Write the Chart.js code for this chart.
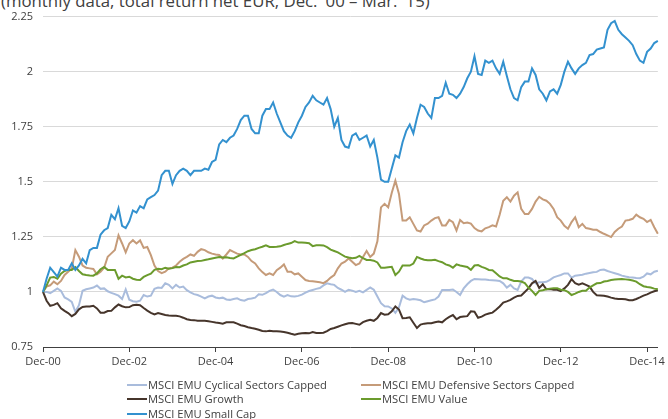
<!DOCTYPE html>
<html><head><meta charset="utf-8">
<script src="https://cdn.jsdelivr.net/npm/chart.js@4/dist/chart.umd.min.js"></script>
<style>
html,body{margin:0;padding:0;background:#fff;overflow:hidden}
#wrap{position:relative;width:668px;height:419px;font-family:"Open Sans",sans-serif;color:#404040;overflow:hidden}
#title{position:absolute;left:1px;top:-7px;font-size:16.8px;line-height:16.8px;white-space:nowrap;color:#404040}
#c{position:absolute;left:0;top:0}
.leg{position:absolute;font-size:11.2px;line-height:14px;white-space:nowrap;color:#404040}
.leg .sw{display:inline-block;width:20px;height:2px;vertical-align:middle;margin-right:1px;position:relative;top:-1px}
</style>
</head><body>
<div id="wrap">
<div id="title">(monthly data, total return net EUR, Dec. '00 – Mar. '15)</div>
<canvas id="c" width="668" height="380"></canvas>
<div id="legend"></div>
</div>
<script>
// Tick labels shown on the x axis
const tickLabels = ["Dec-00","Dec-02","Dec-04","Dec-06","Dec-08","Dec-10","Dec-12","Dec-14"];
const monthNames = ["Jan","Feb","Mar","Apr","May","Jun","Jul","Aug","Sep","Oct","Nov","Dec"];
// Categories: monthly, Dec-00 .. Mar-15
const categories = ["Dec-00"];
for (let y = 1; y <= 15; y++) {
  for (let m = 0; m < 12; m++) {
    if (y === 15 && m > 2) break;
    categories.push(monthNames[m] + "-" + String(y).padStart(2, "0"));
  }
}

const seriesNames = ["MSCI EMU Cyclical Sectors Capped","MSCI EMU Defensive Sectors Capped","MSCI EMU Growth","MSCI EMU Value","MSCI EMU Small Cap"];

const cyclical = [1.00,
 1.00,0.994,1.005,1.016,1.005,0.975,0.966,0.955,0.91,0.94,1.005,1.012,
 1.016,1.02,1.029,1.014,1.016,1.003,0.996,0.99,0.983,0.968,1.011,0.965,
 0.958,0.956,0.96,0.986,0.979,0.983,1.014,1.02,1.018,1.039,1.032,1.016,
 1.032,1.02,1.024,1.008,0.998,0.99,0.986,0.979,0.971,0.979,0.983,0.975,
 0.971,0.974,0.966,0.964,0.968,0.971,0.963,0.96,0.968,0.97,0.974,0.989,
 0.987,0.995,1.005,1.011,1.0,0.986,0.979,0.986,0.98,0.979,0.982,0.988,
 0.997,1.004,1.009,1.014,1.018,1.03,1.039,1.035,1.032,1.018,1.01,1.0,
 1.01,1.006,1.0,1.005,0.998,1.009,1.02,1.01,0.979,0.949,0.935,0.934,
 0.925,0.905,0.93,0.983,0.971,0.965,0.968,0.966,0.962,0.953,0.958,0.962,
 0.966,0.979,1.009,1.009,1.009,1.011,1.0,0.986,1.016,1.035,1.05,1.059,
 1.058,1.057,1.056,1.054,1.053,1.052,1.05,1.039,1.02,1.032,1.016,1.009,
 1.047,1.065,1.065,1.059,1.039,1.044,1.044,1.046,1.055,1.066,1.072,1.077,
 1.084,1.084,1.065,1.074,1.076,1.078,1.083,1.086,1.089,1.091,1.10,1.102,
 1.095,1.09,1.085,1.08,1.074,1.07,1.067,1.065,1.063,1.062,1.069,1.084,
 1.08,1.092,1.096];

const defensive = [1.00,
 1.025,1.03,1.047,1.035,1.05,1.077,1.092,1.107,1.19,1.16,1.12,1.11,
 1.107,1.104,1.08,1.092,1.11,1.16,1.175,1.19,1.257,1.22,1.18,1.22,
 1.235,1.22,1.234,1.20,1.204,1.167,1.12,1.095,1.085,1.092,1.107,1.11,
 1.12,1.137,1.15,1.159,1.17,1.164,1.182,1.194,1.19,1.18,1.174,1.17,
 1.168,1.152,1.17,1.19,1.182,1.174,1.17,1.17,1.159,1.14,1.129,1.107,
 1.09,1.077,1.084,1.077,1.099,1.11,1.125,1.092,1.092,1.08,1.084,1.069,
 1.054,1.05,1.048,1.046,1.044,1.04,1.05,1.065,1.077,1.107,1.129,1.137,
 1.152,1.137,1.122,1.129,1.159,1.186,1.159,1.174,1.23,1.384,1.40,1.384,
 1.45,1.505,1.445,1.324,1.324,1.339,1.309,1.279,1.274,1.302,1.31,1.324,
 1.335,1.339,1.302,1.302,1.327,1.317,1.279,1.327,1.312,1.315,1.31,1.29,
 1.279,1.275,1.289,1.294,1.302,1.297,1.35,1.414,1.43,1.41,1.437,1.452,
 1.377,1.354,1.354,1.377,1.41,1.432,1.42,1.414,1.40,1.377,1.339,1.324,
 1.30,1.287,1.317,1.339,1.294,1.309,1.29,1.287,1.282,1.282,1.272,1.264,
 1.257,1.249,1.272,1.287,1.297,1.324,1.327,1.332,1.351,1.339,1.332,1.317,
 1.327,1.294,1.264];

const growth = [1.00,
 0.96,0.937,0.941,0.949,0.926,0.914,0.904,0.89,0.90,0.921,0.932,0.934,
 0.934,0.937,0.925,0.906,0.906,0.913,0.914,0.93,0.943,0.935,0.93,0.931,
 0.94,0.942,0.94,0.927,0.915,0.905,0.898,0.904,0.90,0.895,0.893,0.892,
 0.892,0.889,0.883,0.876,0.873,0.872,0.869,0.869,0.869,0.867,0.864,0.861,
 0.859,0.856,0.862,0.862,0.862,0.856,0.849,0.845,0.84,0.836,0.833,0.828,
 0.823,0.821,0.824,0.822,0.821,0.82,0.818,0.815,0.81,0.806,0.81,0.812,
 0.813,0.812,0.818,0.814,0.814,0.815,0.822,0.832,0.836,0.842,0.848,0.853,
 0.858,0.859,0.855,0.851,0.863,0.869,0.874,0.869,0.882,0.904,0.897,0.899,
 0.912,0.934,0.92,0.881,0.882,0.885,0.86,0.836,0.852,0.856,0.858,0.858,
 0.862,0.866,0.862,0.876,0.887,0.895,0.876,0.886,0.888,0.89,0.912,0.91,
 0.883,0.888,0.897,0.902,0.906,0.919,0.934,0.952,0.957,0.964,0.974,0.982,
 0.984,1.0,1.016,1.039,1.05,1.018,1.035,1.012,1.013,1.01,1.01,1.004,
 1.016,1.032,1.058,1.04,1.033,1.039,1.032,1.024,1.0,0.985,0.984,0.983,
 0.979,0.974,0.97,0.968,0.968,0.967,0.962,0.962,0.968,0.975,0.983,0.989,
 0.997,1.003,1.008];

const value = [1.00,
 1.03,1.065,1.068,1.06,1.083,1.095,1.10,1.10,1.113,1.095,1.08,1.077,
 1.075,1.074,1.084,1.103,1.113,1.10,1.10,1.10,1.06,1.074,1.066,1.069,
 1.06,1.055,1.054,1.068,1.076,1.083,1.10,1.105,1.103,1.11,1.105,1.108,
 1.113,1.112,1.12,1.125,1.134,1.137,1.14,1.141,1.145,1.148,1.152,1.155,
 1.158,1.156,1.157,1.154,1.152,1.16,1.168,1.176,1.185,1.19,1.194,1.20,
 1.205,1.212,1.204,1.204,1.205,1.207,1.213,1.218,1.222,1.231,1.224,1.224,
 1.223,1.221,1.208,1.212,1.212,1.211,1.203,1.192,1.186,1.18,1.17,1.16,
 1.156,1.153,1.155,1.164,1.153,1.145,1.145,1.142,1.134,1.11,1.11,1.112,
 1.114,1.077,1.092,1.12,1.12,1.12,1.129,1.159,1.152,1.146,1.144,1.144,
 1.146,1.14,1.135,1.125,1.12,1.11,1.125,1.12,1.117,1.113,1.10,1.12,
 1.122,1.114,1.108,1.10,1.099,1.085,1.07,1.062,1.062,1.055,1.05,1.05,
 1.047,1.04,1.02,1.005,0.986,1.005,1.008,1.012,1.015,1.017,1.017,1.01,
 1.008,1.0,0.986,0.992,1.0,1.005,1.005,1.02,1.03,1.039,1.04,1.047,
 1.05,1.054,1.056,1.058,1.059,1.057,1.055,1.052,1.047,1.035,1.026,1.022,
 1.02,1.015,1.012];

const smallCap = [1.00,
 1.06,1.11,1.09,1.07,1.11,1.10,1.10,1.13,1.10,1.12,1.15,1.13,
 1.19,1.20,1.20,1.26,1.28,1.29,1.35,1.33,1.38,1.30,1.29,1.32,
 1.37,1.36,1.39,1.38,1.42,1.43,1.44,1.46,1.53,1.55,1.55,1.49,
 1.53,1.55,1.56,1.55,1.53,1.55,1.55,1.55,1.56,1.555,1.59,1.60,
 1.67,1.69,1.68,1.70,1.71,1.74,1.78,1.80,1.80,1.74,1.72,1.72,
 1.80,1.83,1.83,1.86,1.81,1.77,1.73,1.71,1.70,1.73,1.77,1.80,
 1.84,1.86,1.89,1.87,1.86,1.85,1.88,1.83,1.75,1.79,1.69,1.66,
 1.655,1.71,1.72,1.69,1.70,1.71,1.66,1.69,1.61,1.51,1.50,1.50,
 1.56,1.62,1.61,1.68,1.73,1.76,1.72,1.79,1.85,1.84,1.81,1.79,
 1.88,1.88,1.89,1.95,1.90,1.895,1.88,1.90,1.93,1.97,2.00,2.07,
 1.99,1.985,2.05,2.04,2.05,2.015,1.99,2.045,1.98,1.92,1.88,1.87,
 1.93,1.955,1.955,2.015,1.985,1.92,1.90,1.87,1.91,1.92,1.90,1.94,
 2.00,2.045,2.015,1.99,2.015,2.03,2.04,2.075,2.08,2.10,2.105,2.11,
 2.19,2.22,2.23,2.19,2.17,2.155,2.14,2.12,2.08,2.05,2.04,2.09,
 2.105,2.13,2.14];

const seriesValues = [cyclical, defensive, growth, value, smallCap];
const seriesColors = ["#a9bcdc","#c59b79","#46352b","#6b9b2d","#3391cf"];

const font = {family:"Open Sans", size:11};
const datasets = seriesNames.map((n,i)=>({
  label:n, data:seriesValues[i], borderColor:seriesColors[i], backgroundColor:seriesColors[i],
  borderWidth:2, pointRadius:0, tension:0, fill:false, order:seriesNames.length-i
}));

const chart = new Chart(document.getElementById("c"), {
  type:"line",
  data:{labels:categories, datasets:datasets},
  options:{
    responsive:false, animation:false, devicePixelRatio:1,
    layout:{padding:{left:0,right:9,top:15,bottom:5}},
    plugins:{legend:{display:false}, tooltip:{enabled:false}},
    scales:{
      x:{
        type:"category", offset:false,
        grid:{display:true, drawOnChartArea:false, drawTicks:true, tickLength:5, color:"#404040", lineWidth:1},
        border:{display:true, color:"#404040", width:1},
        ticks:{autoSkip:false, maxRotation:0, minRotation:0, padding:3, color:"#404040", font:font,
          callback:function(v,i){ const l = categories[i]; return tickLabels.includes(l) ? l : null; }},
        afterFit:function(s){ s.height = 28; }
      },
      y:{
        min:0.75, max:2.25,
        ticks:{stepSize:0.25, padding:10, color:"#404040", font:font,
          callback:function(v){ return String(Math.round(v*100)/100); }},
        grid:{color:"#d9d9d9", drawTicks:false, lineWidth:1},
        border:{display:false},
        afterFit:function(s){ s.width = 43; }
      }
    }
  }
});

// HTML legend built from chart datasets
const legendPos = [[127,378],[361,378],[127,392],[361,392],[127,406.5]];
const legendEl = document.getElementById("legend");
chart.data.datasets.forEach((d,i)=>{
  const el = document.createElement("div");
  el.className = "leg";
  el.style.left = legendPos[i][0] + "px";
  el.style.top = legendPos[i][1] + "px";
  const sw = document.createElement("span");
  sw.className = "sw";
  sw.style.background = d.borderColor;
  el.appendChild(sw);
  el.appendChild(document.createTextNode(d.label));
  legendEl.appendChild(el);
});
</script>
</body></html>
